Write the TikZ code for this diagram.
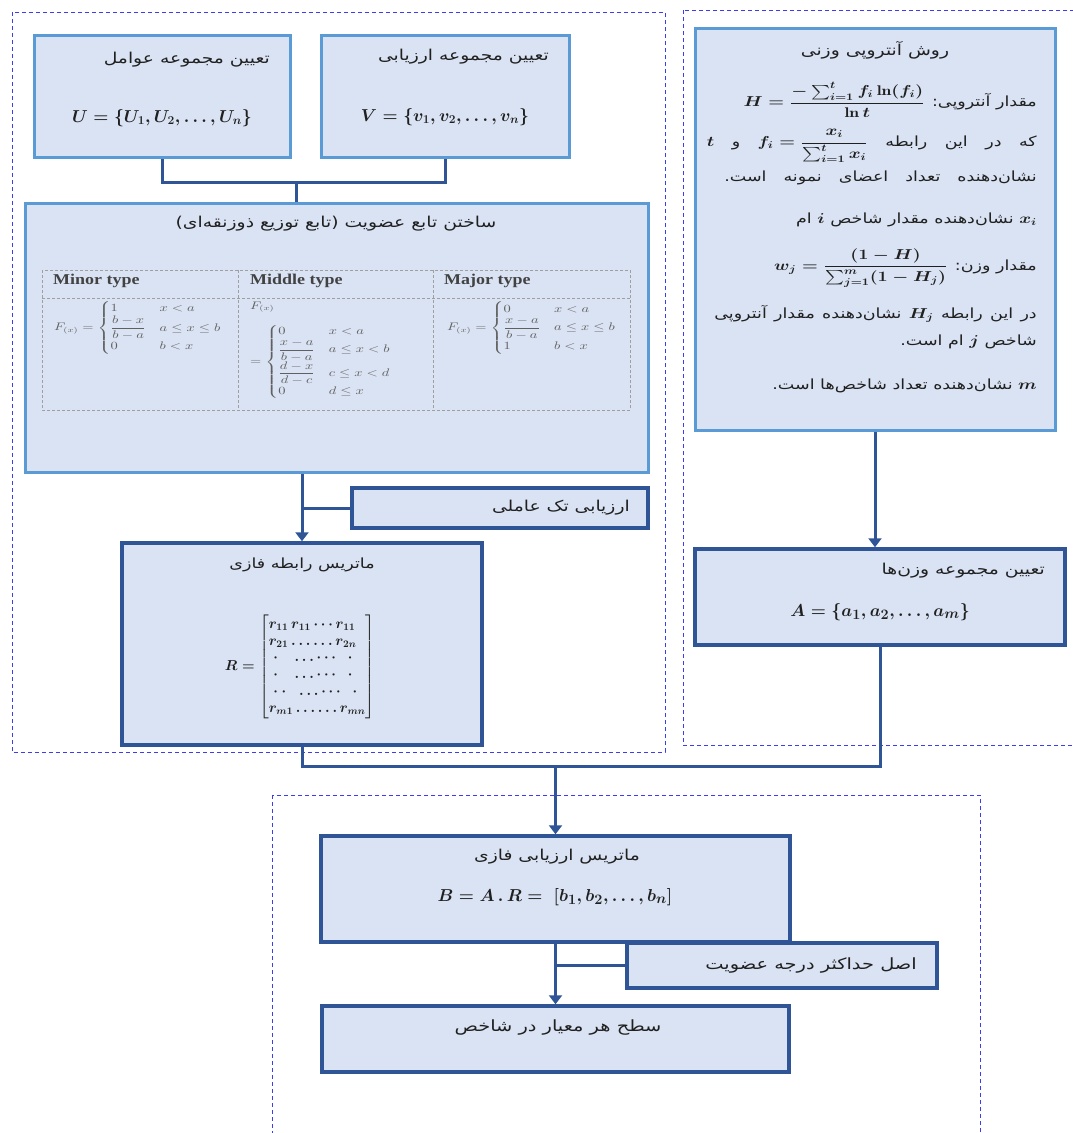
\documentclass[tikz,border=0pt]{standalone}
\usepackage{amsmath}
\usepackage{graphicx}
\usepackage{fontspec}
\usetikzlibrary{arrows.meta}
\TeXXeTstate=1
\newfontfamily\farsi[Script=Arabic]{DejaVu Sans}
\newfontfamily\serifb{Liberation Serif}
\definecolor{boxfill}{HTML}{DAE3F3}
\definecolor{lightb}{HTML}{5B9BD5}
\definecolor{darkb}{HTML}{2F5597}
\definecolor{dashb}{HTML}{3D3DF0}
\definecolor{txt}{HTML}{202020}
\newcommand{\pers}[1]{\scalebox{1.25}[1]{\farsi #1}}
\newcommand{\persj}[2]{\scalebox{1.25}[1]{\hbox to #1{\farsi #2}}}
\newcommand{\mth}[1]{\beginL\hbox{\boldmath$#1$}\endL}
\newcommand{\hdrtext}[1]{\scalebox{1.2}[1]{#1}}
\newcommand{\wideq}[1]{\scalebox{1.32}[1]{#1}}
\tikzset{
  lbox/.style={draw=lightb, line width=3pt, fill=boxfill, inner sep=0pt},
  dbox/.style={draw=darkb, line width=3.5pt, fill=boxfill, inner sep=0pt},
  conn/.style={draw=darkb, line width=3pt},
  arr/.style={conn, -{Triangle[width=13pt,length=9pt]}},
  region/.style={draw=dashb, line width=0.9pt, dash pattern=on 4pt off 3pt},
  tabl/.style={draw=gray!75, line width=1pt, dash pattern=on 3pt off 2pt},
  lbl/.style={inner sep=0pt, text=txt, font=\fontsize{15}{17}\selectfont},
  sml/.style={inner sep=0pt, text=txt, font=\fontsize{14}{16}\selectfont},
  eqn/.style={inner sep=0pt, text=txt, font=\fontsize{17}{19}\selectfont\boldmath},
  eqb/.style={inner sep=0pt, text=txt, font=\fontsize{19}{21}\selectfont\boldmath},
  hdr/.style={inner sep=0pt, text=txt!85, font=\serifb\bfseries\fontsize{15}{17}\selectfont},
  feq/.style={inner sep=0pt, text=gray!75!black, font=\fontsize{10.5}{12}\selectfont},
}
\begin{document}
\begin{tikzpicture}[x=1pt,y=-1pt]
\useasboundingbox[fill=white] (0,0) rectangle (1072,1133);
% regions
\draw[region] (12,12) rectangle (665,752);
\draw[region] (683,10) rectangle (1085,745);
\draw[region] (272,795) rectangle (980,1145);
% boxes
\node[lbox, minimum width=256pt, minimum height=122pt] (U) at (162,96) {};
\node[lbox, minimum width=248pt, minimum height=122pt] (V) at (445,96) {};
\node[lbox, minimum width=623pt, minimum height=269pt] (M) at (336.5,337.5) {};
\node[dbox, minimum width=296pt, minimum height=40pt] (S) at (500,508) {};
\node[dbox, minimum width=360pt, minimum height=202pt] (R) at (302,644) {};
\node[lbox, minimum width=360pt, minimum height=402pt] (E) at (875,229) {};
\node[dbox, minimum width=370pt, minimum height=96pt] (W) at (880,597) {};
\node[dbox, minimum width=469pt, minimum height=106pt] (B) at (555.5,889) {};
\node[dbox, minimum width=310pt, minimum height=45pt] (P) at (782,965.5) {};
\node[dbox, minimum width=467pt, minimum height=66pt] (F) at (555.5,1039) {};
% connectors
\coordinate (j1) at (296,182);
\draw[conn] (U.south) |- (j1) -| (V.south);
\draw[conn] (j1) -- (j1 |- M.north);
\draw[arr] (R.north |- M.south) -- (R.north);
\draw[conn] (R.north |- S.west) -- (S.west);
\draw[arr] (E.south) -- (E.south |- W.north);
\coordinate (j2) at (555.5,766);
\draw[conn] (R.south) |- (W.south |- j2) -- (W.south);
\draw[arr] (j2) -- (B.north);
\draw[arr] (B.south) -- (F.north);
\draw[conn] (B.south |- P.west) -- (P.west);
% U, V
\node[lbl, anchor=east] (Ut) at (270,60) {\pers{\beginR تعیین مجموعه عوامل\endR}};
\node[eqn] (Uf) at (162,118) {$U=\lbrace U_1,U_2,\ldots,U_n\rbrace$};
\node[lbl, anchor=east] (Vt) at (549,57) {\pers{\beginR تعیین مجموعه ارزیابی\endR}};
\node[eqn] (Vf) at (445,117) {$V=\lbrace v_1,v_2,\ldots,v_n\rbrace$};
% membership
\node[lbl] (Mt) at (336,224) {\pers{\beginR ساختن تابع عضویت (تابع توزیع ذوزنقه‌ای)\endR}};
\draw[tabl] (42,270) rectangle (630,410);
\draw[tabl] (42,298) -- (630,298);
\draw[tabl] (238,270) -- (238,410);
\draw[tabl] (433,270) -- (433,410);
\node[hdr, anchor=west] (h1) at (53,281) {\hdrtext{Minor type}};
\node[hdr, anchor=west] (h2) at (250,281) {\hdrtext{Middle type}};
\node[hdr, anchor=west] (h3) at (444,281) {\hdrtext{Major type}};
\node[feq, anchor=west] (f1) at (54,328) {\wideq{$F_{(x)}=\begin{cases}1 & x<a\\ \dfrac{b-x}{b-a} & a\le x\le b\\ 0 & b<x\end{cases}$}};
\node[feq, anchor=west] (f2a) at (250,307) {\wideq{$F_{(x)}$}};
\node[feq, anchor=west] (f2) at (250,362) {\wideq{$=\begin{cases}0 & x<a\\ \dfrac{x-a}{b-a} & a\le x<b\\ \dfrac{d-x}{d-c} & c\le x<d\\ 0 & d\le x\end{cases}$}};
\node[feq, anchor=west] (f3) at (447,328) {\wideq{$F_{(x)}=\begin{cases}0 & x<a\\ \dfrac{x-a}{b-a} & a\le x\le b\\ 1 & b<x\end{cases}$}};
% single factor
\node[lbl, anchor=east] (St) at (630,508) {\pers{\beginR ارزیابی تک عاملی\endR}};
% matrix
\node[sml] (Rt) at (302,565) {\pers{\beginR ماتریس رابطه فازی\endR}};
\node[inner sep=0pt, text=txt, font=\fontsize{14}{16}\selectfont\boldmath] (Rf) at (300,667) {$R=\left[\renewcommand{\arraystretch}{1.05}\begin{array}{@{}l@{}}
r_{11}\,r_{11}\cdots r_{11}\\
r_{21}\ldots\ldots r_{2n}\\
\;\cdot\;\;\;\ldots\cdots\;\;\cdot\\
\;\cdot\;\;\;\ldots\cdots\;\;\cdot\\
\;\cdot\cdot\;\;\ldots\cdots\;\;\cdot\\
r_{m1}\ldots\ldots r_{mn}
\end{array}\right]$};
% entropy
\node[lbl] (E0) at (875,50) {\pers{\beginR روش آنتروپی وزنی\endR}};
\node[sml, anchor=east] (E1) at (1037,100) {\pers{\beginR مقدار آنتروپی: \mth{H=\dfrac{-\sum_{i=1}^{t} f_i\ln(f_i)}{\ln t}}\endR}};
\node[sml, anchor=east] (E2) at (1037,146) {\persj{264pt}{\beginR که در این رابطه \mth{f_i=\dfrac{x_i}{\sum_{i=1}^{t}x_i}} و \mth{t}\endR}};
\node[sml, anchor=east] (E3) at (1037,178) {\persj{250pt}{\beginR نشان‌دهنده تعداد اعضای نمونه است.\endR}};
\node[sml, anchor=east] (E4) at (1037,220) {\pers{\beginR\mth{x_i} نشان‌دهنده مقدار شاخص \mth{i} ام\endR}};
\node[sml, anchor=east] (E5) at (1037,268) {\pers{\beginR مقدار وزن: \mth{w_j=\dfrac{(1-H)}{\sum_{j=1}^{m}(1-H_j)}}\endR}};
\node[sml, anchor=east] (E6) at (1037,314) {\persj{258pt}{\beginR در این رابطه \mth{H_j} نشان‌دهنده مقدار آنتروپی\endR}};
\node[sml, anchor=east] (E7) at (1037,342) {\pers{\beginR شاخص \mth{j} ام است.\endR}};
\node[sml, anchor=east] (E8) at (1037,386) {\pers{\beginR\mth{m} نشان‌دهنده تعداد شاخص‌ها است.\endR}};
% weights
\node[lbl, anchor=east] (Wt) at (1045,571) {\pers{\beginR تعیین مجموعه وزن‌ها\endR}};
\node[eqb] (Wf) at (880,612) {$A=\lbrace a_1,a_2,\ldots,a_m\rbrace$};
% B
\node[lbl] (Bt) at (557,857) {\pers{\beginR ماتریس ارزیابی فازی\endR}};
\node[eqb] (Bf) at (555,897) {$B=A\,.\,R=\;[b_1,b_2,\ldots,b_n]$};
\node[lbl, anchor=east, font=\fontsize{15.5}{17}\selectfont] (Pt) at (917,965) {\pers{\beginR اصل حداکثر درجه عضویت\endR}};
\node[lbl, font=\fontsize{15.5}{17}\selectfont] (Ft) at (558,1027) {\pers{\beginR سطح هر معیار در شاخص\endR}};
\end{tikzpicture}
\end{document}
